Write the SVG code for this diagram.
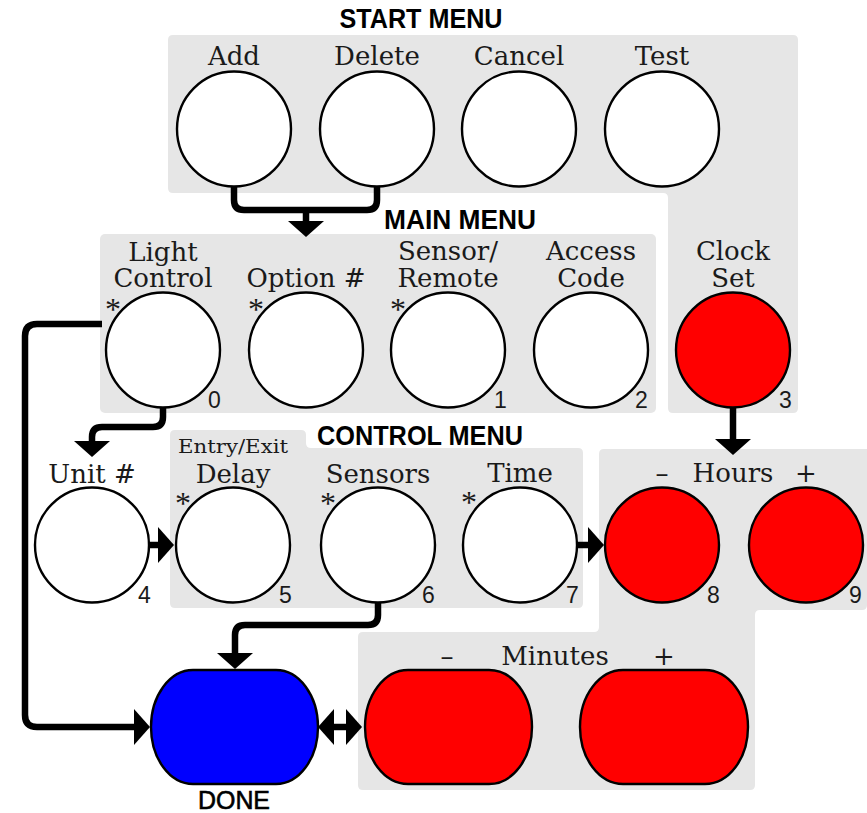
<svg xmlns="http://www.w3.org/2000/svg" width="867" height="813" viewBox="0 0 867 813">
<style>
.panel{fill:#e6e6e6}
.btn{fill:#fff;stroke:#000;stroke-width:2.4}
.red{fill:#ff0000;stroke:#000;stroke-width:2.4}
.blue{fill:#0000ff;stroke:#000;stroke-width:2.4}
.lbl{font-family:"DejaVu Serif","Liberation Serif",serif;font-size:26px;fill:#1a1a1a;text-anchor:middle}
.small{font-size:19px}
.ttl{font-family:"Liberation Sans",Arial,sans-serif;font-size:27px;font-weight:bold;fill:#000;text-anchor:middle}
.num{font-family:"Liberation Sans",Arial,sans-serif;font-size:23px;fill:#1a1a1a}
.ast{font-family:"Liberation Serif",serif;font-size:32px;fill:#1a1a1a;text-anchor:middle}
.wire{fill:none;stroke:#000;stroke-width:6.5}
</style>
<defs>
<marker id="ah" markerUnits="userSpaceOnUse" markerWidth="18" markerHeight="36" viewBox="0 0 18 36" refX="1" refY="18" orient="auto-start-reverse">
<path d="M0,0 L16,18 L0,36 Z" fill="#000"/>
</marker>
</defs>

<g id="panels">
<path class="panel" d="M173,35 H793 Q798,35 798,40 V408 Q798,413 793,413 H673 Q668,413 668,408 V198 Q668,193 663,193 H173 Q168,193 168,188 V40 Q168,35 173,35 Z"/>
<rect class="panel" x="100" y="234" width="556" height="179" rx="5"/>
<path class="panel" d="M175,430 H301 Q306,430 306,435 V443 Q306,448 311,448 H578 Q583,448 583,453 V603 Q583,608 578,608 H175 Q170,608 170,603 V435 Q170,430 175,430 Z"/>
<path class="panel" d="M604,449 H867 V605 Q867,610 862,610 H760 Q755,610 755,615 V785 Q755,790 750,790 H363 Q358,790 358,785 V637 Q358,632 363,632 H594 Q599,632 599,627 V454 Q599,449 604,449 Z"/>
</g>

<g id="titles">
<text class="ttl" x="421" y="28" textLength="163" lengthAdjust="spacingAndGlyphs">START MENU</text>
<text class="ttl" x="460" y="229" textLength="152" lengthAdjust="spacingAndGlyphs">MAIN MENU</text>
<text class="ttl" x="420" y="445" textLength="206" lengthAdjust="spacingAndGlyphs">CONTROL MENU</text>
</g>

<g id="connectors">
<path class="wire" d="M234,186 V200 Q234,210 244,210 H367 Q377,210 377,200 V186"/>
<path class="wire" d="M306,210 V222" marker-end="url(#ah)"/>
<path class="wire" d="M102,324 H37 Q25,324 25,336 V715 Q25,727 37,727 H135" marker-end="url(#ah)"/>
<path class="wire" d="M163,407 V417 Q163,427 153,427 H102 Q92,427 92,437 V442" marker-end="url(#ah)"/>
<path class="wire" d="M733,407 V440" marker-end="url(#ah)"/>
<path class="wire" d="M149,545 H159" marker-end="url(#ah)"/>
<path class="wire" d="M576,545 H589" marker-end="url(#ah)"/>
<path class="wire" d="M378,602 V615 Q378,625 368,625 H245 Q235,625 235,635 V654" marker-end="url(#ah)"/>
<path class="wire" d="M333,727 H347" marker-start="url(#ah)" marker-end="url(#ah)"/>
</g>

<g id="add"><text class="lbl" x="234" y="65">Add</text><ellipse class="btn" cx="234" cy="129" rx="57" ry="57.5"/></g>
<g id="delete"><text class="lbl" x="377" y="65">Delete</text><ellipse class="btn" cx="377" cy="129" rx="57" ry="57.5"/></g>
<g id="cancel"><text class="lbl" x="519" y="65">Cancel</text><ellipse class="btn" cx="519" cy="129" rx="57" ry="57.5"/></g>
<g id="test"><text class="lbl" x="662" y="65">Test</text><ellipse class="btn" cx="662" cy="129" rx="57" ry="57.5"/></g>

<g id="light-control"><text class="lbl" x="163" y="261">Light<tspan x="163" dy="26">Control</tspan></text><text class="ast" x="113" y="320">*</text><ellipse class="btn" cx="163" cy="350" rx="57" ry="57.5"/><text class="num" x="208" y="408">0</text></g>
<g id="option"><text class="lbl" x="306" y="287">Option #</text><text class="ast" x="256" y="320">*</text><ellipse class="btn" cx="306" cy="350" rx="57" ry="57.5"/></g>
<g id="sensor-remote"><text class="lbl" x="448" y="260">Sensor/<tspan x="448" dy="27">Remote</tspan></text><text class="ast" x="398" y="320">*</text><ellipse class="btn" cx="448" cy="350" rx="57" ry="57.5"/><text class="num" x="494" y="408">1</text></g>
<g id="access-code"><text class="lbl" x="591" y="260">Access<tspan x="591" dy="27">Code</tspan></text><ellipse class="btn" cx="591" cy="350" rx="57" ry="57.5"/><text class="num" x="635" y="408">2</text></g>
<g id="clock-set"><text class="lbl" x="733" y="260">Clock<tspan x="733" dy="27">Set</tspan></text><ellipse class="red" cx="733" cy="350" rx="57" ry="57.5"/><text class="num" x="779" y="408">3</text></g>

<g id="unit"><text class="lbl" x="92" y="483">Unit #</text><ellipse class="btn" cx="92" cy="545" rx="57" ry="57.5"/><text class="num" x="138" y="603">4</text></g>
<g id="delay"><text class="lbl small" x="233" y="453" textLength="110" lengthAdjust="spacingAndGlyphs">Entry/Exit</text><text class="lbl" x="233" y="483">Delay</text><text class="ast" x="183" y="514">*</text><ellipse class="btn" cx="233" cy="545" rx="57" ry="57.5"/><text class="num" x="279" y="603">5</text></g>
<g id="sensors"><text class="lbl" x="378" y="483">Sensors</text><text class="ast" x="328" y="514">*</text><ellipse class="btn" cx="378" cy="545" rx="57" ry="57.5"/><text class="num" x="422" y="603">6</text></g>
<g id="time"><text class="lbl" x="520" y="482">Time</text><text class="ast" x="469" y="513">*</text><ellipse class="btn" cx="520" cy="545" rx="57" ry="57.5"/><text class="num" x="566" y="603">7</text></g>
<g id="hours"><text class="lbl" x="662" y="482">–</text><text class="lbl" x="733" y="482">Hours</text><text class="lbl" x="806" y="482">+</text></g>
<g id="hours-minus"><ellipse class="red" cx="662" cy="545" rx="57" ry="57.5"/><text class="num" x="707" y="603">8</text></g>
<g id="hours-plus"><ellipse class="red" cx="806" cy="545" rx="57" ry="57.5"/><text class="num" x="849" y="603">9</text></g>

<g id="minutes"><text class="lbl" x="447" y="665">–</text><text class="lbl" x="555" y="665">Minutes</text><text class="lbl" x="664" y="665">+</text></g>
<g id="minutes-minus"><rect class="red" x="365" y="670" width="167" height="114" rx="43" ry="57"/></g>
<g id="minutes-plus"><rect class="red" x="580" y="670" width="168" height="114" rx="43" ry="57"/></g>
<g id="done"><rect class="blue" x="151" y="670" width="167" height="114" rx="42" ry="57"/><text class="ttl" x="234" y="809" textLength="72" lengthAdjust="spacingAndGlyphs" style="font-size:25px;font-weight:normal;stroke:#000;stroke-width:0.6">DONE</text></g>
</svg>
